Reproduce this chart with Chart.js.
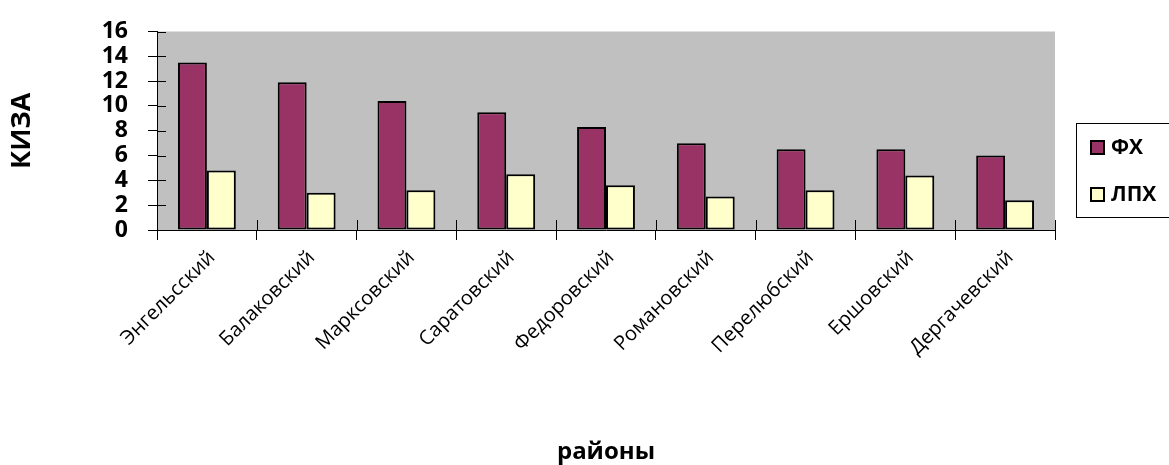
<!DOCTYPE html>
<html>
<head>
<meta charset="utf-8">
<script src="https://cdn.jsdelivr.net/npm/chart.js@4/dist/chart.umd.min.js"></script>
<style>
  html, body { margin: 0; padding: 0; background: #fff; }
  #wrap { width: 1169px; height: 465px; }
</style>
</head>
<body>
<div id="wrap"><canvas id="c" width="1169" height="465"></canvas></div>
<script>
// Districts and KIZA values for the two farm types
const districts = ['Энгельсский', 'Балаковский', 'Марксовский', 'Саратовский', 'Федоровский',
                   'Романовский', 'Перелюбский', 'Ершовский', 'Дергачевский'];
const fxValues  = [13.5, 11.9, 10.4, 9.5, 8.3, 7.0, 6.5, 6.5, 6.0];
const lphValues = [4.8, 3.0, 3.2, 4.5, 3.6, 2.7, 3.2, 4.4, 2.4];
const seriesNames = ['ФХ', 'ЛПХ'];
const yTicks = [0, 2, 4, 6, 8, 10, 12, 14, 16];

const FONT = '"Open Sans", "Noto Sans", "DejaVu Sans", sans-serif';

// Grey plot background
const plotBg = {
  id: 'plotBg',
  beforeDraw(chart) {
    const { ctx, chartArea: a } = chart;
    ctx.save();
    ctx.fillStyle = '#c0c0c0';
    ctx.fillRect(a.left, a.top, a.right - a.left, a.bottom - a.top);
    ctx.restore();
  }
};

// Inner halves of the crossing tick marks
const crossTicks = {
  id: 'crossTicks',
  afterDatasetsDraw(chart) {
    const { ctx, scales: { x, y } } = chart;
    ctx.save();
    ctx.strokeStyle = '#000';
    ctx.lineWidth = 1;
    ctx.beginPath();
    yTicks.forEach(v => {
      const py = Math.round(y.getPixelForValue(v)) + 0.5;
      ctx.moveTo(x.left, py);
      ctx.lineTo(x.left + 9, py);
    });
    for (let i = 0; i <= districts.length; i++) {
      const px = Math.round(x.getPixelForValue(i - 0.5)) + 0.5;
      ctx.moveTo(px, y.bottom - 10);
      ctx.lineTo(px, y.bottom);
    }
    ctx.stroke();
    ctx.restore();
  }
};

// Boxed legend on the right
const boxLegend = {
  id: 'boxLegend',
  afterDraw(chart) {
    const { ctx } = chart;
    ctx.save();
    ctx.strokeStyle = '#000';
    ctx.lineWidth = 1;
    ctx.strokeRect(1076.5, 123.5, 100, 94);
    ctx.font = 'bold 21px ' + FONT;
    ctx.textBaseline = 'middle';
    ctx.textAlign = 'left';
    chart.data.datasets.forEach((ds, i) => {
      const cy = 148 + i * 47;
      ctx.fillStyle = ds.backgroundColor;
      ctx.fillRect(1091, cy - 7, 13, 13);
      ctx.lineWidth = 2;
      ctx.strokeStyle = '#000';
      ctx.strokeRect(1091, cy - 7, 13, 13);
      ctx.fillStyle = '#000';
      ctx.fillText(ds.label, 1111, cy);
    });
    ctx.restore();
  }
};

new Chart(document.getElementById('c'), {
  type: 'bar',
  data: {
    labels: districts,
    datasets: [
      { label: seriesNames[0], data: fxValues, backgroundColor: '#993366' },
      { label: seriesNames[1], data: lphValues, backgroundColor: '#ffffcc' }
    ]
  },
  options: {
    responsive: false,
    animation: false,
    devicePixelRatio: 1,
    layout: { padding: { top: 25, right: 114, left: 0, bottom: 0 } },
    datasets: {
      bar: {
        categoryPercentage: 0.58,
        barPercentage: 1.0,
        borderColor: '#000',
        borderWidth: 2,
        borderSkipped: false
      }
    },
    plugins: {
      legend: { display: false },
      tooltip: { enabled: false }
    },
    scales: {
      x: {
        offset: true,
        grid: { offset: true, drawOnChartArea: false, drawTicks: true, tickLength: 10, color: '#000', lineWidth: 1 },
        border: { display: true, color: '#000', width: 1 },
        ticks: {
          color: '#000',
          font: { family: FONT, size: 20 },
          minRotation: 45,
          maxRotation: 45,
          padding: 6,
          labelOffset: 5,
          autoSkip: false
        },
        title: {
          display: true,
          text: 'районы',
          color: '#000',
          font: { family: FONT, size: 24, weight: 'bold', lineHeight: 1.2 },
          padding: { top: 0, bottom: -2 }
        },
        afterFit(scale) { scale.height = 235; }
      },
      y: {
        min: 0,
        max: 16,
        grid: { drawOnChartArea: false, drawTicks: true, tickLength: 9, color: '#000', lineWidth: 1 },
        border: { display: true, color: '#000', width: 1 },
        afterBuildTicks(scale) { scale.ticks = yTicks.map(v => ({ value: v })); },
        ticks: {
          color: '#000',
          font: { family: FONT, size: 23, weight: 'bold', lineHeight: 1 },
          padding: 20,
          autoSkip: false
        },
        title: {
          display: true,
          text: 'КИЗА',
          color: '#000',
          font: { family: FONT, size: 27, weight: 'bold', lineHeight: 1.2 },
          padding: { top: 6, bottom: 0 }
        },
        afterFit(scale) { scale.width = 157; }
      }
    }
  },
  plugins: [plotBg, crossTicks, boxLegend]
});
</script>
</body>
</html>
